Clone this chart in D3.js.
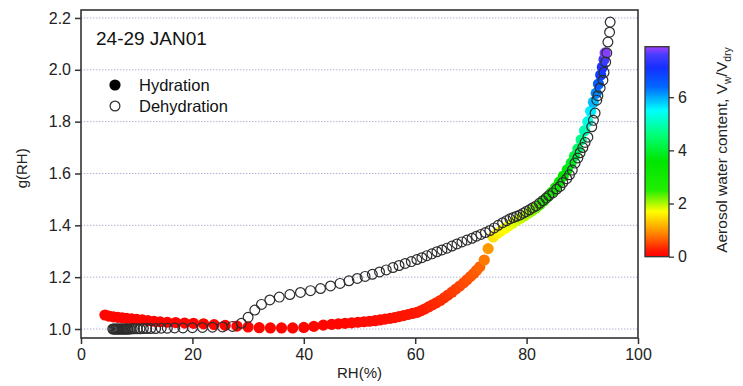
<!DOCTYPE html>
<html>
<head>
<meta charset="utf-8">
<script src="https://cdn.jsdelivr.net/npm/d3@7/dist/d3.min.js"></script>
<style>
  html, body { margin: 0; padding: 0; background: #fff; }
  svg { display: block; font-family: Arial, "Liberation Sans", sans-serif; }
</style>
</head>
<body>
<svg id="chart" width="743" height="386"></svg>
<script>
// Hydration branch: RH (%), growth factor g(RH), aerosol water content Vw/Vdry
const hydRH = [4.3, 5.0, 5.8, 6.6, 7.4, 8.2, 9.1, 10.0, 11.0, 12.0, 13.1, 14.2, 15.5, 17.0, 18.6, 20.2, 22.0, 23.9, 25.9, 28.0,
  30.0, 32.0, 34.0, 36.0, 38.0, 40.0, 41.8, 43.5, 45.0, 46.2, 47.4, 48.6, 49.7, 50.8, 51.8, 52.8, 53.7, 54.6, 55.5, 56.3,
  57.1, 57.9, 58.7, 59.5, 60.3, 61.0, 61.7, 62.4, 63.1, 63.8, 64.5, 65.2, 65.9, 66.6, 67.3, 68.0, 68.7, 69.3, 69.9, 70.5,
  71.0, 71.6, 72.4, 73.1,
  74.0, 74.7, 75.4, 76.1, 76.8, 77.5, 78.2, 78.9, 79.6, 80.3, 81.0, 81.7, 82.4, 83.1, 83.8, 84.5, 85.2, 85.9, 86.6, 87.3,
  88.0, 88.6, 89.2, 89.8, 90.4, 91.0, 91.5, 92.0, 92.5, 92.9, 93.3, 93.6, 93.9, 94.1];
const hydG = [1.054, 1.050, 1.047, 1.045, 1.043, 1.041, 1.039, 1.037, 1.035, 1.032, 1.030, 1.028, 1.026, 1.025, 1.023, 1.022, 1.020, 1.017, 1.014, 1.011,
  1.008, 1.005, 1.004, 1.004, 1.004, 1.006, 1.010, 1.015, 1.018, 1.020, 1.022, 1.024, 1.026, 1.028, 1.030, 1.032, 1.035, 1.038, 1.041, 1.044,
  1.048, 1.052, 1.056, 1.060, 1.064, 1.070, 1.077, 1.085, 1.093, 1.101, 1.110, 1.120, 1.131, 1.142, 1.154, 1.166, 1.178, 1.190, 1.202, 1.214,
  1.226, 1.240, 1.266, 1.310,
  1.355, 1.368, 1.378, 1.388, 1.398, 1.408, 1.418, 1.427, 1.436, 1.446, 1.456, 1.467, 1.480, 1.495, 1.510, 1.527, 1.546, 1.567, 1.590, 1.615,
  1.640, 1.667, 1.695, 1.730, 1.765, 1.800, 1.840, 1.875, 1.910, 1.945, 1.980, 2.010, 2.040, 2.065];
const hydW = [0.05, 0.05, 0.05, 0.05, 0.05, 0.05, 0.05, 0.05, 0.05, 0.05, 0.05, 0.05, 0.05, 0.05, 0.05, 0.05, 0.05, 0.05, 0.05, 0.05,
  0.05, 0.05, 0.05, 0.05, 0.05, 0.05, 0.05, 0.05, 0.06, 0.07, 0.08, 0.09, 0.10, 0.11, 0.12, 0.13, 0.14, 0.15, 0.16, 0.17,
  0.18, 0.19, 0.20, 0.21, 0.23, 0.25, 0.27, 0.29, 0.31, 0.33, 0.35, 0.37, 0.40, 0.43, 0.46, 0.49, 0.52, 0.55, 0.58, 0.61,
  0.64, 0.68, 0.80, 1.00,
  1.50, 1.60, 1.65, 1.70, 1.75, 1.80, 1.85, 1.90, 1.95, 2.00, 2.10, 2.20, 2.35, 2.50, 2.70, 2.90, 3.10, 3.30, 3.50, 3.70,
  3.90, 4.10, 4.40, 4.70, 5.00, 5.30, 5.60, 5.90, 6.20, 6.50, 6.90, 7.20, 7.50, 7.80];

// Dehydration branch: RH (%), growth factor g(RH)
const dehRH = [95.0, 94.9, 94.6, 94.4, 94.2, 93.9, 93.7, 93.2, 92.8, 92.6, 92.3, 92.0, 91.7, 91.0, 90.5, 90.1, 89.6, 89.2, 88.7, 88.2,
  87.7, 87.2, 86.5, 86.0, 85.4, 84.7, 84.0, 83.5, 82.9, 82.3, 81.7, 81.1, 80.5, 79.9, 79.4, 78.8, 78.2, 77.6, 77.0, 76.4,
  75.7, 74.9, 74.2, 73.4, 72.6, 71.8, 71.0, 70.2, 69.3, 68.4, 67.5, 66.6, 65.7, 64.8, 63.9, 63.0, 62.1, 61.2, 60.3, 59.3,
  58.2, 57.1, 56.0, 54.8, 53.6, 52.3, 51.0, 49.6, 48.1, 46.5, 44.8, 43.0, 41.2, 39.4, 37.5, 35.6, 33.9, 32.4, 31.2, 30.0,
  28.8, 27.2, 25.4, 23.6, 21.8, 20.0, 18.3, 16.8, 15.5, 14.4, 13.4, 12.5, 11.8, 11.2, 10.6, 10.1, 9.6, 9.2, 8.8, 8.5,
  8.3, 8.1, 7.9, 7.7, 7.5, 7.3, 7.1, 6.9, 6.7, 6.5, 6.3, 6.1, 5.9, 5.7];
const dehG = [2.184, 2.145, 2.107, 2.065, 2.030, 1.990, 1.960, 1.930, 1.900, 1.883, 1.833, 1.805, 1.780, 1.740, 1.720, 1.700, 1.680, 1.660, 1.640, 1.613,
  1.595, 1.580, 1.565, 1.550, 1.540, 1.525, 1.515, 1.505, 1.495, 1.485, 1.475, 1.468, 1.460, 1.453, 1.447, 1.440, 1.435, 1.430, 1.425, 1.418,
  1.410, 1.400, 1.390, 1.380, 1.372, 1.365, 1.358, 1.350, 1.343, 1.336, 1.328, 1.320, 1.312, 1.305, 1.298, 1.290, 1.283, 1.275, 1.268, 1.260,
  1.253, 1.245, 1.237, 1.228, 1.220, 1.211, 1.203, 1.195, 1.186, 1.176, 1.166, 1.156, 1.148, 1.141, 1.133, 1.123, 1.112, 1.095, 1.073, 1.045,
  1.022, 1.010, 1.008, 1.007, 1.006, 1.005, 1.004, 1.004, 1.003, 1.003, 1.002, 1.002, 1.002, 1.002, 1.001, 1.001, 1.001, 1.001, 1.000, 1.000,
  1.000, 1.000, 1.000, 1.000, 1.000, 1.000, 1.000, 1.000, 1.000, 1.000, 1.000, 1.000, 1.000, 1.000];

// Axis ticks and labels
const xTicks = [0, 20, 40, 60, 80, 100];
const yTicks = [1.0, 1.2, 1.4, 1.6, 1.8, 2.0, 2.2];
const cbTicks = [0, 2, 4, 6];
const titleText = "24-29 JAN01";
const legendLabels = ["Hydration", "Dehydration"];

// Colour map for water content (value stops and colours)
const cStops = [0, 0.25, 0.9, 1.7, 2.5, 3.6, 4.6, 5.5, 6.4, 7.1, 7.6, 7.9];
const cColors = ["#ff0000", "#ff1a00", "#ff8a00", "#ffff00", "#22ee00", "#00e600", "#00ff7a", "#00ffff", "#0066ff", "#1430ff", "#4a3cff", "#a040ff"];

const W = 743, H = 386;
const m = { left: 81, right: 105, top: 10, bottom: 48 };
const pw = W - m.left - m.right, ph = H - m.top - m.bottom;

const svg = d3.select("#chart");
const font = 'Arial, "Liberation Sans", sans-serif';

const x = d3.scaleLinear().domain([0, 100]).range([m.left, m.left + pw]);
const y = d3.scaleLinear().domain([0.9653, 2.2307]).range([m.top + ph, m.top]);
const color = d3.scaleLinear().domain(cStops).range(cColors).clamp(true);

// Dotted horizontal grid
svg.append("g").selectAll("line").data(yTicks).join("line")
  .attr("x1", m.left).attr("x2", m.left + pw)
  .attr("y1", d => y(d)).attr("y2", d => y(d))
  .attr("stroke", "#aab0d4").attr("stroke-width", 1)
  .attr("stroke-dasharray", "1.4,1.6");

// Hydration points, coloured by water content
const hyd = hydRH.map((r, i) => ({ rh: r, g: hydG[i], w: hydW[i] }));
svg.append("g").selectAll("circle").data(hyd).join("circle")
  .attr("cx", d => x(d.rh)).attr("cy", d => y(d.g)).attr("r", 5.6)
  .attr("fill", d => color(d.w));

// Dehydration points, open circles
const deh = dehRH.map((r, i) => ({ rh: r, g: dehG[i] }));
svg.append("g").selectAll("circle").data(deh).join("circle")
  .attr("cx", d => x(d.rh)).attr("cy", d => y(d.g)).attr("r", 4.9)
  .attr("fill", "none").attr("stroke", "#2d2d2d").attr("stroke-width", 1.2);

// Axes
const xAxis = d3.axisBottom(x).tickValues(xTicks).tickFormat(d3.format("d")).tickSizeOuter(0).tickSize(6).tickPadding(5);
const yAxis = d3.axisLeft(y).tickValues(yTicks).tickFormat(d3.format(".1f")).tickSizeOuter(0).tickSize(6).tickPadding(4);

const gx = svg.append("g").attr("transform", `translate(0,${m.top + ph})`).call(xAxis);
const gy = svg.append("g").attr("transform", `translate(${m.left},0)`).call(yAxis);
[gx, gy].forEach(g => {
  g.select(".domain").remove();
  g.selectAll(".tick line").attr("stroke", "#333").attr("stroke-width", 1.5);
  g.selectAll(".tick text").attr("fill", "#222").style("font-family", font).style("font-size", "16px");
});

// Plot frame
svg.append("rect")
  .attr("x", m.left).attr("y", m.top).attr("width", pw).attr("height", ph)
  .attr("fill", "none").attr("stroke", "#333").attr("stroke-width", 1.6);

// Axis titles
svg.append("text").attr("x", x(50)).attr("y", 378).attr("text-anchor", "middle")
  .style("font-family", font).style("font-size", "15px").attr("fill", "#222").text("RH(%)");
svg.append("text").attr("transform", `translate(27,${y(1.62)}) rotate(-90)`).attr("text-anchor", "middle")
  .style("font-family", font).style("font-size", "15px").attr("fill", "#222").text("g(RH)");

// Title inside plot
svg.append("text").attr("x", 96).attr("y", 45)
  .style("font-family", font).style("font-size", "19px").attr("fill", "#111").text(titleText);

// Legend
const leg = svg.append("g");
legendLabels.forEach((lab, i) => {
  const ly = 85 + i * 21;
  leg.append("circle").attr("cx", 115).attr("cy", ly).attr("r", i === 0 ? 5.6 : 4.9)
    .attr("fill", i === 0 ? "#000" : "none")
    .attr("stroke", i === 0 ? "none" : "#2d2d2d").attr("stroke-width", 1.2);
  leg.append("text").attr("x", 139).attr("y", ly + 6)
    .style("font-family", font).style("font-size", "16.5px").attr("fill", "#111").text(lab);
});

// Colour bar
const cb = { x: 645, w: 24 };
const cbScale = d3.scaleLinear().domain([0, 7.9]).range([256.7, 46.7]);
const defs = svg.append("defs");
const grad = defs.append("linearGradient").attr("id", "cbgrad")
  .attr("x1", 0).attr("x2", 0).attr("y1", 1).attr("y2", 0);
cStops.forEach((s, i) => {
  grad.append("stop").attr("offset", s / 7.9).attr("stop-color", cColors[i]);
});
svg.append("rect").attr("x", cb.x).attr("y", cbScale(7.9)).attr("width", cb.w)
  .attr("height", cbScale(0) - cbScale(7.9))
  .attr("fill", "url(#cbgrad)").attr("stroke", "#333").attr("stroke-width", 1.3);

const cbAxis = d3.axisRight(cbScale).tickValues(cbTicks).tickFormat(d3.format("d")).tickSize(5).tickPadding(4).tickSizeOuter(0);
const gcb = svg.append("g").attr("transform", `translate(${cb.x + cb.w},0)`).call(cbAxis);
gcb.select(".domain").remove();
gcb.selectAll(".tick line").attr("stroke", "#333").attr("stroke-width", 1.3);
gcb.selectAll(".tick text").attr("fill", "#222").style("font-family", font).style("font-size", "16px");

// Colour bar title with subscripts
const cbt = svg.append("text")
  .attr("transform", "translate(727,150) rotate(-90)").attr("text-anchor", "middle")
  .style("font-family", font).style("font-size", "15.5px").attr("fill", "#222");
cbt.append("tspan").text("Aerosol water content, V");
cbt.append("tspan").attr("dy", 4).style("font-size", "10.5px").text("w");
cbt.append("tspan").attr("dy", -4).text("/V");
cbt.append("tspan").attr("dy", 4).style("font-size", "10.5px").text("dry");
</script>
</body>
</html>
